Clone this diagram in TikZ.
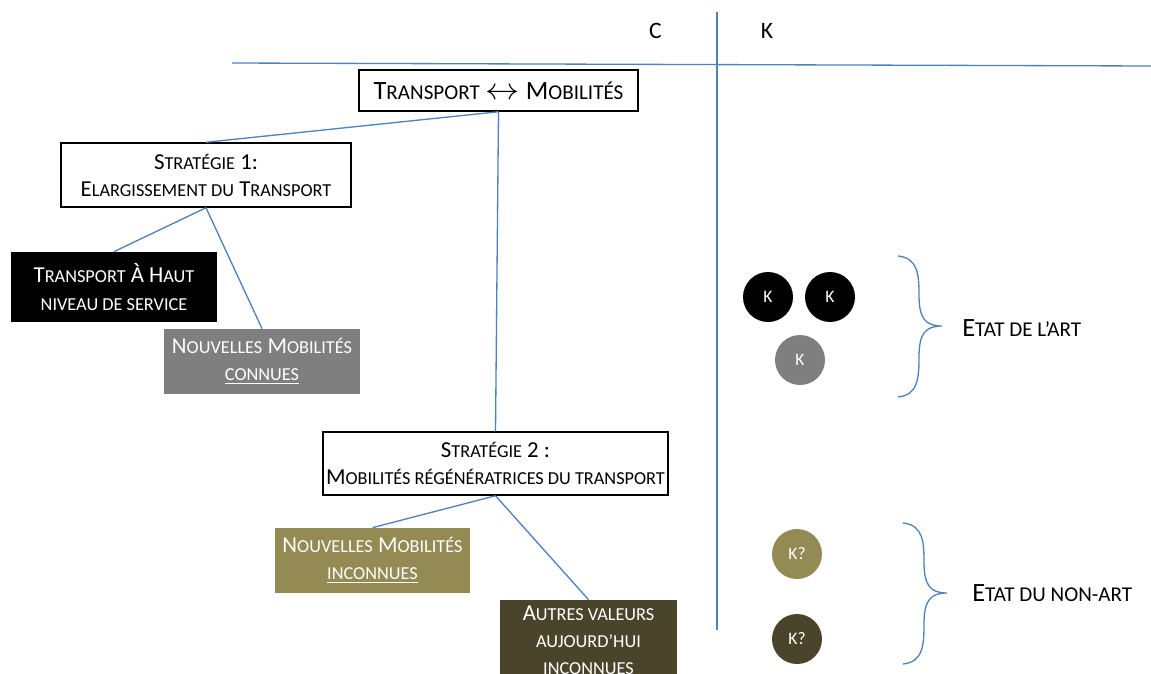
\documentclass[tikz,border=0pt]{standalone}
\usepackage{fontspec}
\setmainfont{Carlito}
\newfontfamily\scfont[Scale=0.8]{Carlito}
\newcommand{\smc}[1]{{\scfont #1}}
\definecolor{linkblue}{RGB}{79,129,189}
\definecolor{basegray}{RGB}{127,127,127}
\definecolor{baseolive}{RGB}{148,138,84}
\definecolor{basebrown}{RGB}{74,69,42}

\begin{document}
\begin{tikzpicture}[x=0.02cm, y=-0.02cm]
  \tikzset{
    white_box/.style args={#1/#2}{
      draw=black, fill=white, line width=0.85pt, inner sep=0pt, align=center,
      minimum width=#1*0.02cm, minimum height=#2*0.02cm
    },
    filled_box/.style args={#1/#2/#3}{
      draw=none, fill=#1, text=white, inner sep=0pt, align=center,
      minimum width=#2*0.02cm, minimum height=#3*0.02cm
    },
    k_circle/.style={
      circle, fill=#1, text=white, minimum size=1cm, inner sep=0pt,
      font=\fontsize{10}{12}\selectfont
    },
    blue_link/.style={draw=linkblue, line width=0.75pt},
    big_text/.style={font=\fontsize{#1}{16}\selectfont},
    box_text/.style={font=\fontsize{13}{15.4}\selectfont}
  }

  \clip (0,0) rectangle (1151,673);
  \useasboundingbox (0,0) rectangle (1151,673);

  % C / K axes
  \draw[blue_link] (232,63) -- (1151,66);
  \draw[blue_link] (717,12) -- (717,630);
  \node[big_text=13.4] (col-C) at (655.5,31) {C};
  \node[big_text=13.4] (col-K) at (767,31) {K};

  % C side: tree of concepts
  \node[white_box=279/41, big_text=15] (trans) at (498.5,90.5)
    {T\smc{RANSPORT} \scalebox{1.35}[1.2]{$\leftrightarrow$} M\smc{OBILITÉS}};
  \node[white_box=290/64, box_text] (strat-1) at (206,175)
    {S\smc{TRATÉGIE} 1:\\E\smc{LARGISSEMENT DU} T\smc{RANSPORT}};
  \node[filled_box=black/206/70, box_text] (thns) at (114,287)
    {T\smc{RANSPORT} À H\smc{AUT}\\\smc{NIVEAU DE SERVICE}};
  \node[filled_box=basegray/196/65, box_text] (nm-known) at (262,361.5)
    {N\smc{OUVELLES} M\smc{OBILITÉS}\\\underline{\smc{CONNUES}}};
  \node[white_box=345/63, box_text] (strat-2) at (495.5,463.5)
    {S\smc{TRATÉGIE} 2 :\\M\smc{OBILITÉS RÉGÉNÉRATRICES DU TRANSPORT}};
  \node[filled_box=baseolive/195/65, box_text] (nm-unknown) at (372.5,560.5)
    {N\smc{OUVELLES} M\smc{OBILITÉS}\\\underline{\smc{INCONNUES}}};
  \node[filled_box=basebrown/177/80, box_text] (other) at (588.5,640)
    {A\smc{UTRES VALEURS}\\\smc{AUJOURD’HUI}\\\smc{INCONNUES}};

  \draw[blue_link] (trans.south) -- (strat-1.north);
  \draw[blue_link] (trans.south) -- (strat-2.north);
  \draw[blue_link] (strat-1.south) -- (thns.north);
  \draw[blue_link] (strat-1.south) -- (nm-known.north);
  \draw[blue_link] (strat-2.south) -- (nm-unknown.north);
  \draw[blue_link] (strat-2.south) -- (other.north);

  % K side: knowledge
  \node[k_circle=black] (k-1) at (768,297) {K};
  \node[k_circle=black] (k-2) at (830,297) {K};
  \node[k_circle=basegray] (k-3) at (800,360) {K};
  \node[k_circle=baseolive] (k-4) at (797,554) {K?};
  \node[k_circle=basebrown] (k-5) at (797,639) {K?};

  % braces
  \draw[blue_link] (898,256) .. controls (918,258) and (919,275) .. (919,295)
    .. controls (919,318) and (925,326) .. (942,326)
    .. controls (925,326) and (919,334) .. (919,357)
    .. controls (919,378) and (918,395) .. (898,397);
  \draw[blue_link] (903,523) .. controls (923,525) and (924,542) .. (924,562)
    .. controls (924,585) and (930,593) .. (947,593)
    .. controls (930,593) and (924,601) .. (924,624)
    .. controls (924,645) and (923,662) .. (903,664);

  \node[anchor=west, inner sep=0pt, big_text=15] (art) at (962,328) {E\smc{TAT DE L’ART}};
  \node[anchor=west, inner sep=0pt, big_text=15] (non-art) at (972,593) {E\smc{TAT DU NON-ART}};
\end{tikzpicture}
\end{document}
